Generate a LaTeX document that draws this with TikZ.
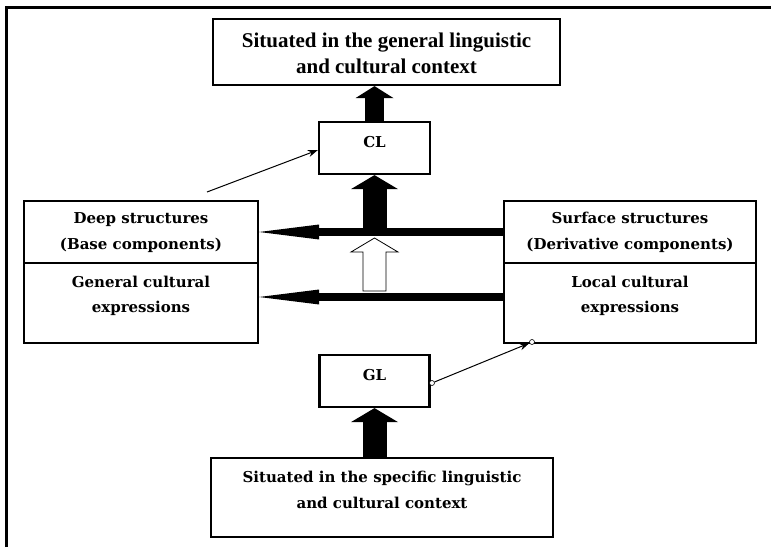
\documentclass[tikz,border=0pt]{standalone}
\usepackage{fontspec}
\setmainfont{Liberation Serif}
\newfontfamily\schfont{DejaVu Serif}
\usetikzlibrary{arrows.meta,positioning,calc}
\begin{document}
\begin{tikzpicture}[x=1pt,y=-1pt,
  box/.style={draw, line width=2.2pt, rectangle, inner sep=0pt},
  txt/.style={align=center, font=\schfont\bfseries\fontsize{15}{25.5}\selectfont, inner sep=0pt},
  ttxt/.style={align=center, font=\bfseries\fontsize{21}{26}\selectfont, inner sep=0pt},
  blockarrow/.style={line width=24pt, -{Triangle[width=47pt,length=14pt,line width=0pt]}},
  topblockarrow/.style={line width=19pt, -{Triangle[width=38pt,length=12pt,line width=0pt]}},
  longarrow/.style={line width=8pt, -{Triangle[width=15pt,length=60pt,line width=0pt]}},
  thinarrow/.style={line width=1pt, -{Stealth[length=10pt,width=7pt]}},
  dot/.style={circle, draw, fill=white, inner sep=0pt, minimum size=5pt, line width=0.6pt}
]
\useasboundingbox (0,0) rectangle (771,547);
\draw[line width=3pt] (6,547) -- (6,7) -- (771,7);

\node[box, minimum width=347pt, minimum height=66pt] (top) at (386.5,52) {};
\node[ttxt] (topT) at (386.5,53) {Situated in the general linguistic\\and cultural context};

\node[box, minimum width=111pt, minimum height=52pt] (CL) at (374.5,148) {};
\node[txt] (CLT) at (374.5,142) {CL};

\node[box, minimum width=234pt, minimum height=62pt] (lT) at (141,232) {};
\node[txt] (lTT) at (141,232.5) {Deep structures\\(Base components)};
\node[box, minimum width=234pt, minimum height=80pt] (lB) at (141,303) {};
\node[txt] (lBT) at (141,296) {General cultural\\expressions};

\node[box, minimum width=252pt, minimum height=62pt] (rT) at (630,232) {};
\node[txt] (rTT) at (630,232.5) {Surface structures\\(Derivative components)};
\node[box, minimum width=252pt, minimum height=80pt] (rB) at (630,303) {};
\node[txt] (rBT) at (630,296) {Local cultural\\expressions};

\node[box, minimum width=110pt, minimum height=52pt] (GL) at (374.5,381) {};
\node[txt] (GLT) at (374.5,375) {GL};

\node[box, minimum width=342pt, minimum height=79pt] (bot) at (382,497.5) {};
\node[txt] (botT) at (382,490) {Situated in the specific linguistic\\and cultural context};

% block arrows
\draw[topblockarrow] (CL.north) -- (CL.north |- top.south);
\coordinate (a2s) at (374.5,229);
\draw[blockarrow] (a2s) -- (CL.south);
\draw[blockarrow] (GL.south |- bot.north) -- (GL.south);

% long arrows
\draw[longarrow] (rT.west) -- (lT.east);
\draw[longarrow] ($(rB.west)+(0,-6)$) -- ($(lB.east)+(0,-6)$);

% hollow arrow
\draw[line width=0.8pt, fill=white] (363,291) -- (363,252) -- (351,252) -- (374.5,238) -- (398,252) -- (386,252) -- (386,291) -- cycle;

% thin arrows
\coordinate (t1s) at (207,192);
\draw[thinarrow] (t1s) -- ($(CL.west)+(0,2)$);
\node[dot] (d1) at (432,383) {};
\node[dot] (d2) at (532,342) {};
\draw[thinarrow] (d1) -- (d2);
\end{tikzpicture}
\end{document}
